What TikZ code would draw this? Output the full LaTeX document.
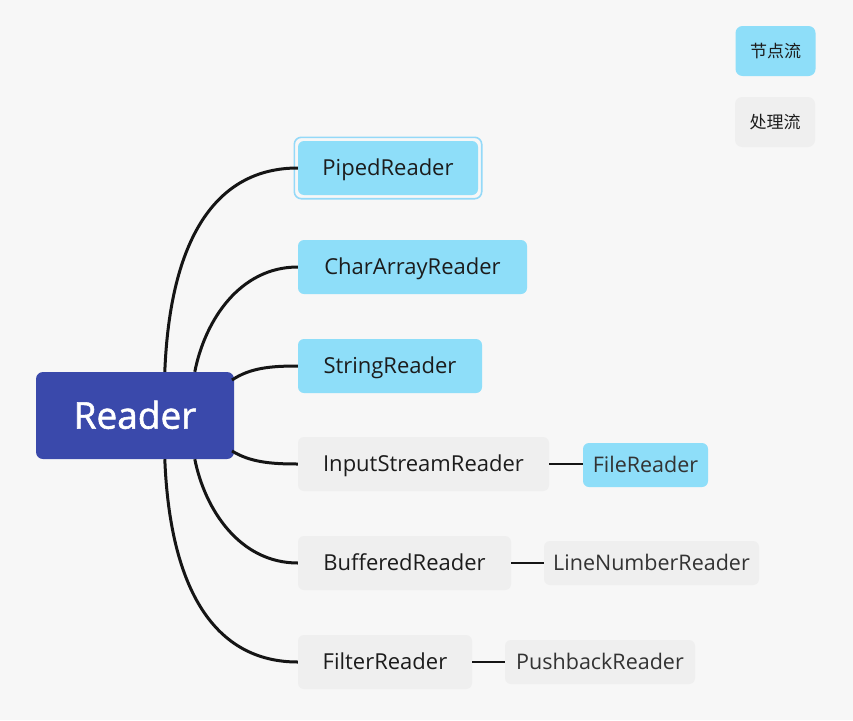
\documentclass[tikz,border=0pt]{standalone}
\usepackage{fontspec}
\setmainfont{Open Sans}
\newfontfamily\rootfont[FakeBold=1.4]{Open Sans}
\newfontfamily\cjk{Noto Sans CJK SC}
\usetikzlibrary{fit}
\definecolor{bgc}{HTML}{F7F7F7}
\definecolor{nodeblue}{HTML}{8EDEF9}
\definecolor{procgray}{HTML}{EFEFEF}
\definecolor{rootblue}{HTML}{3A49AB}
\definecolor{selblue}{HTML}{94D9F8}
\definecolor{linec}{HTML}{151515}
\definecolor{txtc}{HTML}{1C1C1C}
\definecolor{subtxt}{HTML}{333333}
\tikzset{
  basebox/.style={rounded corners=6pt, inner sep=0pt, align=center},
  childbox/.style={basebox, minimum height=54pt, text=txtc, text height=15.7pt, text depth=0pt, font=\fontsize{22}{26}\selectfont},
  subbox/.style={basebox, minimum height=44pt, text=subtxt, text height=15.4pt, text depth=0pt, font=\fontsize{21.5}{26}\selectfont},
  blueb/.style={fill=nodeblue},
  grayb/.style={fill=procgray},
  legendbox/.style={basebox, minimum width=80pt, minimum height=50pt, rounded corners=7pt, text=txtc, font=\cjk\fontsize{17}{20}\selectfont},
  rootbox/.style={basebox, fill=rootblue, text=white, minimum width=198pt, minimum height=87pt, rounded corners=7pt, text height=26.4pt, text depth=0pt, font=\rootfont\fontsize{37}{42}\selectfont},
  branch/.style={draw=linec, line width=3pt},
  subline/.style={draw=linec, line width=2.5pt},
}
\begin{document}
\begin{tikzpicture}[x=1pt,y=-1pt]
\fill[bgc] (0,0) rectangle (853,720);
\useasboundingbox (0,0) rectangle (853,720);

% legend
\node[legendbox, blueb] (leg1) at (775.5,51) {节点流};
\node[legendbox, grayb] (leg2) at (775,122) {处理流};

% root
\node[rootbox] (reader) at (135,415.5) {Reader};

% children
\node[childbox, blueb, minimum width=180pt] (piped) at (388,168) {PipedReader};
\node[draw=selblue, line width=1.6pt, rounded corners=7pt, fit=(piped), inner sep=3.5pt] (pipedsel) {};
\node[childbox, blueb, minimum width=229pt] (chararray) at (412.5,267) {CharArrayReader};
\node[childbox, blueb, minimum width=184pt] (string) at (390,366) {StringReader};
\node[childbox, grayb, minimum width=251pt] (isr) at (423.5,464) {InputStreamReader};
\node[childbox, grayb, minimum width=213pt] (buffered) at (404.5,563) {BufferedReader};
\node[childbox, grayb, minimum width=174pt] (filter) at (385,662) {FilterReader};

% sub children
\node[subbox, blueb, minimum width=125pt] (file) at (645.5,465) {FileReader};
\node[subbox, grayb, minimum width=215pt] (linenum) at (651.5,563) {LineNumberReader};
\node[subbox, grayb, minimum width=190pt] (pushback) at (600,662) {PushbackReader};

% branch start points on root
\coordinate (s1) at ([xshift=129pt]reader.north west);
\coordinate (s2) at ([xshift=159pt]reader.north west);
\coordinate (s5) at ([xshift=159pt]reader.south west);
\coordinate (s6) at ([xshift=129pt]reader.south west);
\coordinate (s3) at (232,380);
\coordinate (s4) at (232,451);

\draw[branch] (s1) .. controls (170,240) and (215,168) .. (piped.west);
\draw[branch] (s2) .. controls (205,320) and (240,267) .. (chararray.west);
\draw[branch] (s3) .. controls (250,368) and (270,366) .. (string.west);
\draw[branch] (s4) .. controls (250,462) and (270,464) .. (isr.west);
\draw[branch] (s5) .. controls (205,510) and (240,563) .. (buffered.west);
\draw[branch] (s6) .. controls (170,590) and (215,662) .. (filter.west);

\draw[subline] (isr.east) -- (isr.east -| file.west);
\draw[subline] (buffered.east) -- (linenum.west);
\draw[subline] (filter.east) -- (pushback.west);
\end{tikzpicture}
\end{document}
